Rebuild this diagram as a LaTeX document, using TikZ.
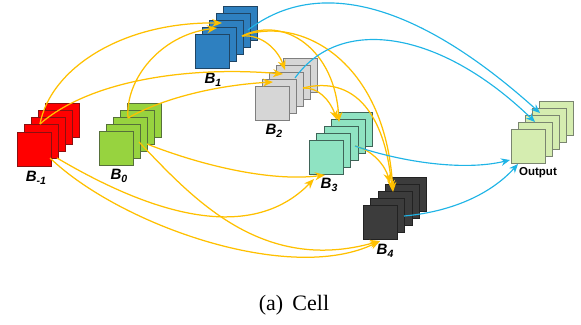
\documentclass[tikz,border=0pt]{standalone}
\usepackage{fontspec}
\setmainfont{Liberation Serif}
\setsansfont{Liberation Sans}
\usetikzlibrary{arrows.meta}
\definecolor{yel}{HTML}{FFC000}
\definecolor{blu}{HTML}{1FB4E6}
\tikzset{
  sq/.style={rectangle,draw=#1,line width=0.9pt,minimum size=34pt,inner sep=0pt,anchor=north west},
  ylink/.style={draw=yel,line width=1.25pt,-{Stealth[length=10pt,width=8pt,fill=yel]}},
  blink/.style={draw=blu,line width=1.15pt,-{Stealth[length=9pt,width=7.5pt,fill=blu]}},
  blab/.style={font=\sffamily\bfseries\itshape\fontsize{15}{16}\selectfont,inner sep=0pt},
  olab/.style={font=\sffamily\bfseries\fontsize{11.5}{12}\selectfont,inner sep=0pt},
  captext/.style={font=\fontsize{22}{24}\selectfont,inner sep=0pt}
}
\newcommand{\cellstack}[5]{%
  \foreach \i in {4,3,2,1,0}{
    \node[sq=#5,fill=#4] (#1\i) at ({#2+\i*7.1},{#3-\i*7.1}) {};
  }
}
\newcommand{\lsub}[1]{B\raisebox{-3pt}{\fontsize{10.5}{11}\selectfont #1}}
\begin{document}
\begin{tikzpicture}[x=1pt,y=-1pt]
\useasboundingbox (0,0) rectangle (581,324);
\definecolor{cr}{HTML}{FF0000}\definecolor{crd}{HTML}{8A1010}
\definecolor{cg}{HTML}{97D33F}\definecolor{cgd}{HTML}{56703A}
\definecolor{cb}{HTML}{2E80C0}\definecolor{cbd}{HTML}{1F4564}
\definecolor{cs}{HTML}{D6D6D6}\definecolor{csd}{HTML}{7F7F7F}
\definecolor{ct}{HTML}{8FE3C2}\definecolor{ctd}{HTML}{3F6458}
\definecolor{ck}{HTML}{3C3C3C}\definecolor{ckd}{HTML}{222222}
\definecolor{cl}{HTML}{D5EDB0}\definecolor{cld}{HTML}{7A8570}
\cellstack{m}{16.5}{131.5}{cr}{crd}
\cellstack{z}{98.7}{131.3}{cg}{cgd}
\cellstack{a}{195}{34.3}{cb}{cbd}
\cellstack{b}{254.7}{86}{cs}{csd}
\cellstack{c}{309.3}{140.3}{ct}{ctd}
\cellstack{d}{363.3}{205.3}{ck}{ckd}
\cellstack{o}{510.7}{129.3}{cl}{cld}
\node[blab] (lm) at (36,178) {\lsub{-1}};
\node[blab] (lz) at (119,176) {\lsub{0}};
\node[blab] (la) at (213,80) {\lsub{1}};
\node[blab] (lb) at (274,131) {\lsub{2}};
\node[blab] (lc) at (329,185) {\lsub{3}};
\node[blab] (ld) at (385,251) {\lsub{4}};
\node[olab] (lo) at (538,173) {Output};
\node[captext] (caption) at (294,305) {(a)\hspace{0.42em}Cell};
% ports
\coordinate (mt) at (40,124); \coordinate (mb) at (50,158); \coordinate (mr) at (57,158);
\coordinate (zt) at (128,118); \coordinate (zr) at (147,144); \coordinate (zb) at (139,142);
\coordinate (ay) at (242,36); \coordinate (ab) at (248,30);
\coordinate (ai) at (222,23); \coordinate (aj) at (217,28);
\coordinate (bi) at (283,74); \coordinate (bj) at (273,82); \coordinate (bk) at (285,70);
\coordinate (by) at (303,88); \coordinate (bb) at (295,78);
\coordinate (ci) at (339,122); \coordinate (cj) at (337,120); \coordinate (ck) at (314,179); \coordinate (cm) at (325,175);
\coordinate (cy) at (355,146);
\coordinate (di) at (393,192); \coordinate (dj) at (392,190); \coordinate (dk) at (390,183); \coordinate (dl) at (380,241);
\coordinate (db) at (404,216);
\coordinate (oa) at (540,113); \coordinate (ob) at (535,122); \coordinate (oc) at (510,160); \coordinate (od) at (518,164);
% yellow
\draw[ylink] (mt) .. controls (50,70) and (120,22) .. (ai);
\draw[ylink] (mt) .. controls (90,80) and (190,66) .. (bi);
\draw[ylink] (zt) .. controls (125,80) and (160,35) .. (aj);
\draw[ylink] (zt) .. controls (165,97) and (220,85) .. (bj);
\draw[ylink] (ay) .. controls (262,34) and (278,50) .. (bk);
\draw[ylink] (ay) .. controls (285,15) and (335,50) .. (ci);
\draw[ylink] (ay) .. controls (300,15) and (385,60) .. (di);
\draw[ylink] (by) .. controls (318,87) and (330,100) .. (cj);
\draw[ylink] (by) .. controls (355,75) and (385,115) .. (dj);
\draw[ylink] (cy) .. controls (372,150) and (385,165) .. (dk);
\draw[ylink] (mr) .. controls (120,195) and (240,255) .. (ck);
\draw[ylink] (mb) .. controls (120,225) and (290,285) .. (dl);
\draw[ylink] (zr) .. controls (200,165) and (270,182) .. (cm);
\draw[ylink] (zb) .. controls (190,195) and (260,275) .. (dl);
% blue
\draw[blink] (ab) .. controls (320,-25) and (420,5) .. (oa);
\draw[blink] (bb) .. controls (340,15) and (440,30) .. (ob);
\draw[blink] (cy) .. controls (395,160) and (460,172) .. (oc);
\draw[blink] (db) .. controls (450,212) and (490,195) .. (od);
\end{tikzpicture}
\end{document}
